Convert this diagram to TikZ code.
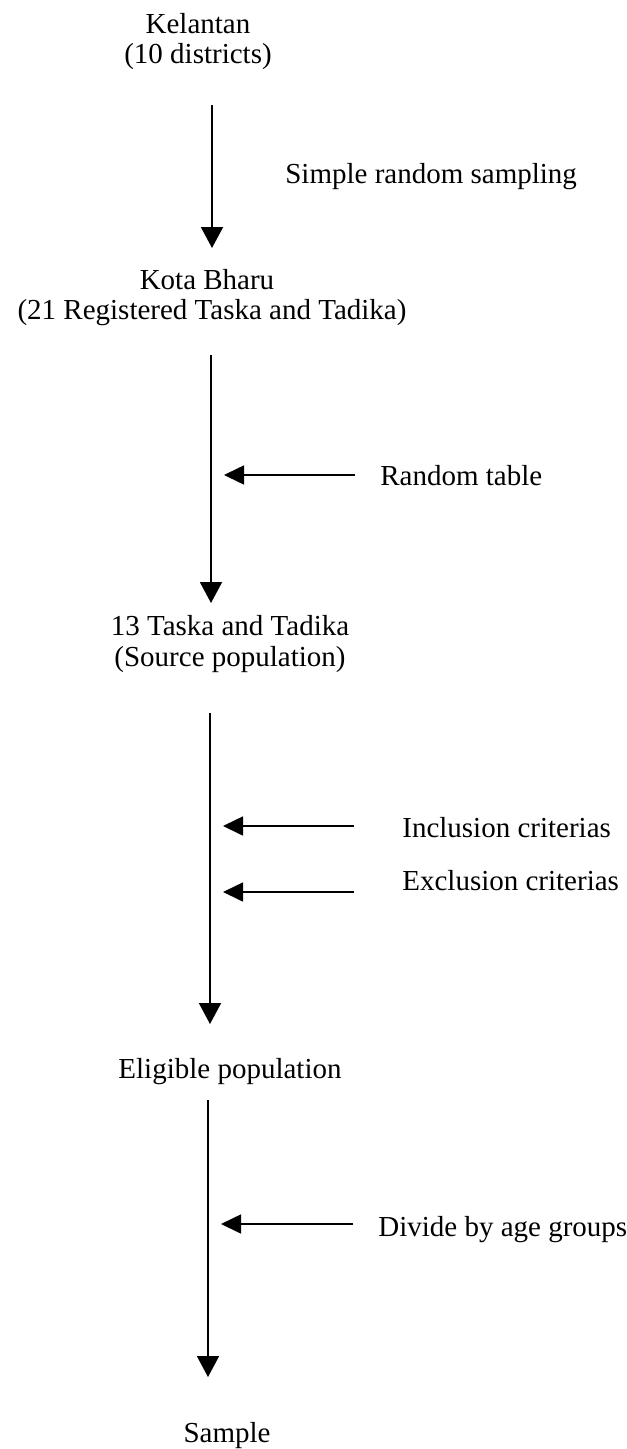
\documentclass[tikz,border=0pt]{standalone}
\usepackage{fontspec}
\setmainfont{Liberation Serif}
\usetikzlibrary{arrows.meta}

\begin{document}
\begin{tikzpicture}[
  font=\fontsize{16.5}{19.8}\selectfont,
  lbl/.style={anchor=base, inner sep=0pt, text=black},
  note/.style={anchor=base west, inner sep=0pt, text=black},
  down/.style={-{Triangle[length=4.2mm, width=4.4mm]}, line width=1.1pt, draw=black},
  side/.style={-{Triangle[length=4mm, width=3.8mm]}, line width=0.9pt, draw=black, shorten >=0.26cm}
]
\useasboundingbox (0,0) rectangle (12.54,-28.98);

% ---------- Kelantan -> Kota Bharu ----------
\node[lbl] (kel) at (3.96,-0.66) {Kelantan};
\node[lbl] (dist) at (3.96,-1.26) {(10 districts)};
\coordinate (top1) at (4.24,-2.10);
\coordinate (tip1) at (4.24,-4.96);
\draw[down] (top1) -- (tip1);
\node[note] (srs) at (5.70,-3.66) {Simple random sampling};

% ---------- Kota Bharu -> 13 Taska ----------
\node[lbl] (kota) at (4.14,-5.78) {Kota Bharu};
\node[lbl] (reg) at (4.24,-6.38) {(21 Registered Taska and Tadika)};
\coordinate (top2) at (4.22,-7.10);
\coordinate (tip2) at (4.22,-12.06);
\draw[down] (top2) -- (tip2);
\coordinate (rtail) at (7.10,-9.50);
\draw[side] (rtail) -- (rtail -| top2);
\node[note] (rtab) at (7.60,-9.70) {Random table};

% ---------- Source population -> Eligible ----------
\node[lbl] (taska) at (4.60,-12.70) {13 Taska and Tadika};
\node[lbl] (src) at (4.60,-13.32) {(Source population)};
\coordinate (top3) at (4.20,-14.26);
\coordinate (tip3) at (4.20,-20.48);
\draw[down] (top3) -- (tip3);
\coordinate (intail) at (7.08,-16.52);
\coordinate (extail) at (7.08,-17.84);
\draw[side] (intail) -- (intail -| top3);
\draw[side] (extail) -- (extail -| top3);
\node[note] (incl) at (8.04,-16.74) {Inclusion criterias};
\node[note] (excl) at (8.04,-17.80) {Exclusion criterias};

% ---------- Eligible -> Sample ----------
\node[lbl] (elig) at (4.60,-21.56) {Eligible population};
\coordinate (top4) at (4.16,-22.00);
\coordinate (tip4) at (4.16,-27.54);
\draw[down] (top4) -- (tip4);
\coordinate (agetail) at (7.06,-24.48);
\draw[side] (agetail) -- (agetail -| top4);
\node[note] (age) at (7.56,-24.72) {Divide by age groups};
\node[lbl] (samp) at (4.54,-28.84) {Sample};

\end{tikzpicture}
\end{document}
